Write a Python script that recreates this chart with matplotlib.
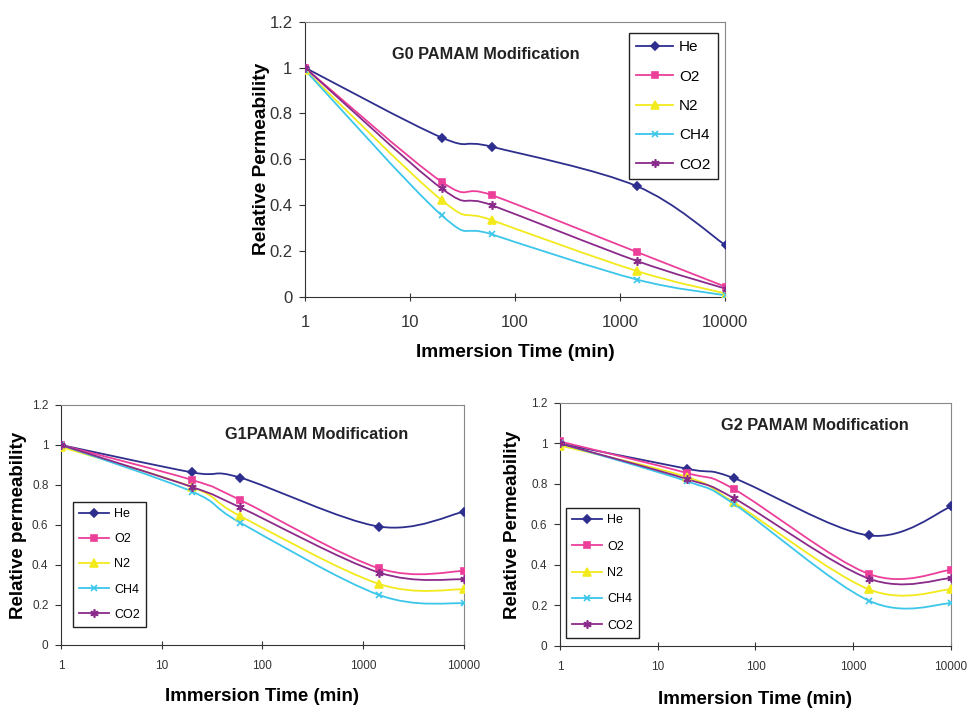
import numpy as np
import matplotlib
matplotlib.use("Agg")
import matplotlib.pyplot as plt
from matplotlib.path import Path
from matplotlib.patches import PathPatch
from matplotlib.lines import Line2D

plt.rcParams['font.family'] = ['Liberation Sans', 'DejaVu Sans']

# immersion times (min)
times = [1, 20, 60, 1440, 10080]
gases = ['He', 'O2', 'N2', 'CH4', 'CO2']

# G0 PAMAM
g0_he = [1.0, 0.695, 0.655, 0.483, 0.225]
g0_o2 = [1.0, 0.502, 0.444, 0.196, 0.044]
g0_n2 = [0.99, 0.422, 0.335, 0.113, 0.015]
g0_ch4 = [0.99, 0.356, 0.273, 0.076, 0.007]
g0_co2 = [1.0, 0.473, 0.400, 0.157, 0.036]

# G1 PAMAM
g1_he = [1.0, 0.863, 0.837, 0.592, 0.667]
g1_o2 = [1.0, 0.825, 0.725, 0.383, 0.370]
g1_n2 = [0.99, 0.790, 0.645, 0.305, 0.278]
g1_ch4 = [1.0, 0.767, 0.612, 0.250, 0.208]
g1_co2 = [1.0, 0.790, 0.688, 0.362, 0.328]

# G2 PAMAM
g2_he = [1.0, 0.875, 0.829, 0.546, 0.689]
g2_o2 = [1.01, 0.854, 0.775, 0.356, 0.376]
g2_n2 = [0.99, 0.834, 0.709, 0.280, 0.280]
g2_ch4 = [1.0, 0.813, 0.702, 0.224, 0.211]
g2_co2 = [1.0, 0.824, 0.730, 0.333, 0.335]

colors = ['#2e2e8e', '#ec3f9a', '#f2ea1c', '#3cc6ea', '#8a2a8a']
markers = ['D', 's', '^', 'x', (6, 2, 0)]
msizes = [4.5, 4.5, 5.5, 5, 6]


def smooth_path(x, y):
    # Excel-like smoothed line: Catmull-Rom segments in log-x space
    u = np.log10(np.asarray(x, float))
    v = np.asarray(y, float)
    pts = np.column_stack([u, v])
    ext = np.vstack([pts[0], pts, pts[-1]])
    verts = [pts[0]]
    codes = [Path.MOVETO]
    for i in range(len(pts) - 1):
        p0, p1, p2, p3 = ext[i], ext[i + 1], ext[i + 2], ext[i + 3]
        c1 = p1 + (p2 - p0) / 6.0
        c2 = p2 - (p3 - p1) / 6.0
        verts += [c1, c2, p2]
        codes += [Path.CURVE4] * 3
    verts = np.array(verts)
    verts[:, 0] = 10 ** verts[:, 0]
    return Path(verts, codes)


def draw_panel(ax, series, title, title_xy, ylabel, ylab_x, xlab_y,
               fs_tick, fs_lab, fs_title, fs_leg, leg_loc, leg_anchor, leg_space, xpad):
    for vals, c, m, ms in zip(series, colors, markers, msizes):
        ax.add_patch(PathPatch(smooth_path(times, vals), fill=False,
                               edgecolor=c, lw=1.3, transform=ax.transData, zorder=2))
        ax.plot(times, vals, ls='none', marker=m, color=c, ms=ms,
                mew=1.2, zorder=3)
    ax.set_xscale('log')
    ax.set_xlim(1, 10000)
    ax.set_ylim(0, 1.2)
    ax.set_xticks([1, 10, 100, 1000, 10000])
    ax.set_xticklabels(['1', '10', '100', '1000', '10000'])
    ax.minorticks_off()
    ax.set_yticks([0, 0.2, 0.4, 0.6, 0.8, 1.0, 1.2])
    ax.set_yticklabels(['0', '0.2', '0.4', '0.6', '0.8', '1', '1.2'])
    ax.tick_params(labelsize=fs_tick, length=4, colors='#333333')
    ax.tick_params(axis='x', direction='inout', length=6, pad=xpad)
    ax.tick_params(axis='y', direction='out', pad=5)
    for s in ['top', 'right']:
        ax.spines[s].set_color('#888888')
    for s in ['left', 'bottom']:
        ax.spines[s].set_color('#333333')
    ax.set_xlabel('Immersion Time (min)', fontsize=fs_lab, fontweight='bold')
    ax.set_ylabel(ylabel, fontsize=fs_lab, fontweight='bold')
    ax.xaxis.set_label_coords(0.5, xlab_y)
    ax.yaxis.set_label_coords(ylab_x, 0.5)
    ax.text(title_xy[0], title_xy[1], title, transform=ax.transAxes,
            fontsize=fs_title, fontweight='bold', ha='center', va='center',
            color='#222222')
    handles = [Line2D([], [], color=c, marker=m, ms=ms, lw=1.3, mew=1.2)
               for c, m, ms in zip(colors, markers, msizes)]
    leg = ax.legend(handles, gases, loc=leg_loc, bbox_to_anchor=leg_anchor,
                    fontsize=fs_leg, fancybox=False, edgecolor='#222222',
                    framealpha=1, labelspacing=leg_space, handlelength=2.4,
                    borderpad=0.5, handletextpad=0.4, borderaxespad=0)
    leg.get_frame().set_linewidth(1.0)


fig = plt.figure(figsize=(9.71, 7.13), dpi=100)

ax0 = fig.add_axes([0.314, 0.5835, 0.433, 0.386])
draw_panel(ax0, [g0_he, g0_o2, g0_n2, g0_ch4, g0_co2], 'G0 PAMAM Modification',
           (0.43, 0.88), 'Relative Permeability', -0.083, -0.17,
           12, 13.8, 11.8, 11, 'upper right', (0.983, 0.96), 1.0, 10)

ax1 = fig.add_axes([0.0628, 0.0954, 0.415, 0.3366])
draw_panel(ax1, [g1_he, g1_o2, g1_n2, g1_ch4, g1_co2], 'G1PAMAM Modification',
           (0.635, 0.875), 'Relative permeability', -0.084, -0.18,
           8.5, 13.5, 11.8, 9, 'lower left', (0.03, 0.075), 1.05, 8)

ax2 = fig.add_axes([0.5767, 0.094, 0.4027, 0.3408])
draw_panel(ax2, [g2_he, g2_o2, g2_n2, g2_ch4, g2_co2], 'G2 PAMAM Modification',
           (0.652, 0.909), 'Relative Permeability', -0.10, -0.185,
           8.5, 13.5, 11.8, 9, 'lower left', (0.015, 0.033), 1.15, 8)

fig.savefig('out.png', dpi=100)
